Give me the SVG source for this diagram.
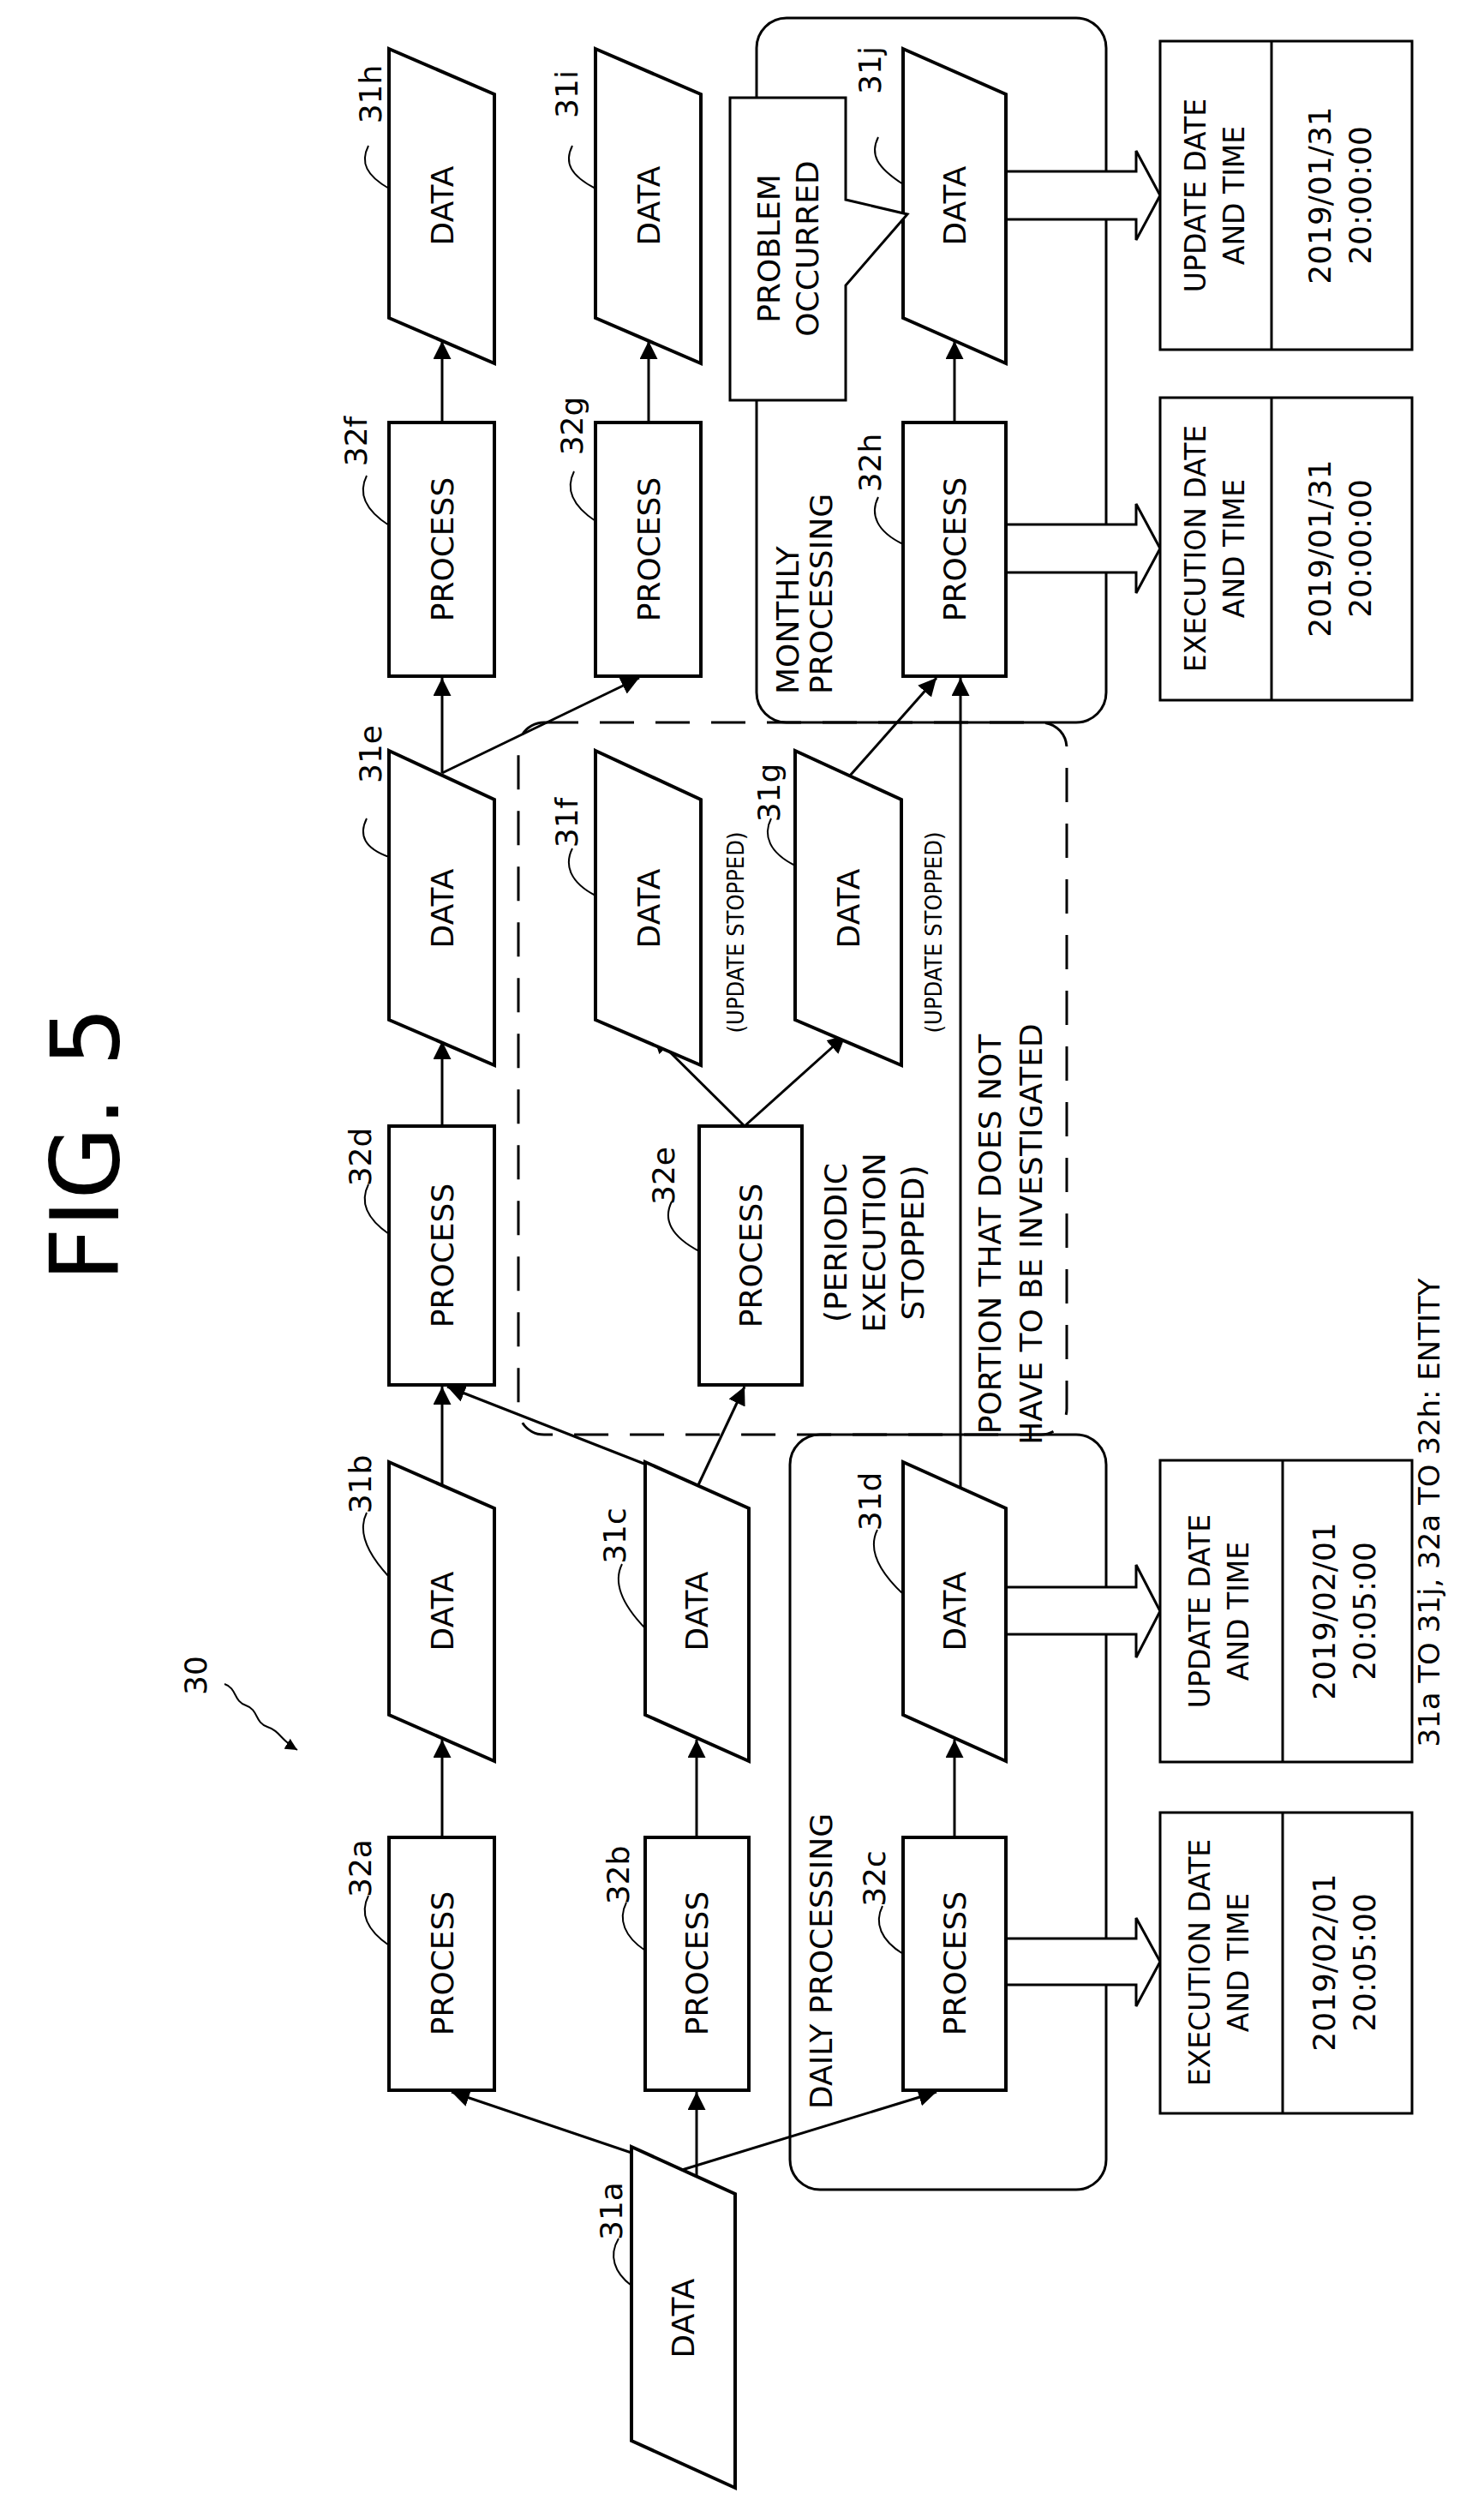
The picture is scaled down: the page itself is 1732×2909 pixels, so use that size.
<svg xmlns="http://www.w3.org/2000/svg" width="1732" height="2909" viewBox="0 0 1732 2909">
<style>
text{font-family:"DejaVu Sans","Liberation Sans",sans-serif;fill:#000}
.t{font-size:36px;text-anchor:middle;dominant-baseline:central}
.s{font-size:27px;text-anchor:middle;dominant-baseline:central}
.box{fill:#fff;stroke:#000;stroke-width:4}
.ln{fill:none;stroke:#000;stroke-width:3}
.ld{fill:none;stroke:#000;stroke-width:2}
.ar{fill:none;stroke:#000;stroke-width:3;marker-end:url(#a)}
.fat{fill:#fff;stroke:#000;stroke-width:3}
</style>
<defs>
<marker id="a" viewBox="0 0 10 10" refX="10" refY="5" markerWidth="7" markerHeight="7" orient="auto" markerUnits="strokeWidth"><path d="M0,0 L10,5 L0,10 z" fill="#000"/></marker>
</defs>
<rect width="1732" height="2909" fill="#fff"/>
<text transform="translate(100,1335) rotate(-90)" style="font-size:110px;text-anchor:middle;dominant-baseline:central">FIG. 5</text>
<text transform="translate(1668,1765) rotate(-90)" class="t" style="font-size:34px">31a TO 31j, 32a TO 32h: ENTITY</text>
<g id="label30"><text transform="translate(228,1955) rotate(-90)" class="t">30</text><path class="ld" d="M262,1965 c15,5 10,20 25,25 c15,5 10,20 25,25 c15,5 15,15 35,27" marker-end="url(#a)"/></g>

<g id="groups">
<rect x="605" y="843" width="640" height="831" rx="30" fill="none" stroke="#000" stroke-width="3" stroke-dasharray="40,25"/>
<rect x="883" y="21" width="408" height="822" rx="35" fill="none" stroke="#000" stroke-width="3"/>
<rect x="922" y="1674" width="369" height="881" rx="35" fill="none" stroke="#000" stroke-width="3"/>
<text transform="translate(958,2461) rotate(-90)" class="t" style="text-anchor:start">DAILY PROCESSING</text>
<text transform="translate(919,810) rotate(-90)" class="t" style="text-anchor:start">MONTHLY</text>
<text transform="translate(958,810) rotate(-90)" class="t" style="text-anchor:start">PROCESSING</text>
<text transform="translate(1155,1440) rotate(-90)" class="t">PORTION THAT DOES NOT</text>
<text transform="translate(1203,1440) rotate(-90)" class="t">HAVE TO BE INVESTIGATED</text>
</g>

<g id="connectors">
<line class="ar" x1="796" y1="2532" x2="527" y2="2441"/>
<line class="ar" x1="813" y1="2540" x2="813" y2="2441"/>
<line class="ar" x1="796" y1="2532" x2="1093" y2="2441"/>
<line class="ar" x1="516" y1="2144" x2="516" y2="2030"/>
<line class="ar" x1="813" y1="2144" x2="813" y2="2030"/>
<line class="ar" x1="1114" y1="2144" x2="1114" y2="2030"/>
<line class="ar" x1="516" y1="1735" x2="516" y2="1618"/>
<line class="ar" x1="762" y1="1712" x2="522" y2="1618"/>
<line class="ar" x1="813" y1="1737" x2="869" y2="1618"/>
<line class="ar" x1="1121" y1="1736" x2="1121" y2="791"/>
<line class="ar" x1="516" y1="1314" x2="516" y2="1215"/>
<line class="ar" x1="516" y1="902" x2="516" y2="791"/>
<line class="ar" x1="516" y1="902" x2="746" y2="791"/>
<line class="ar" x1="869" y1="1314" x2="762" y2="1208"/>
<line class="ar" x1="869" y1="1314" x2="987" y2="1208"/>
<line class="ar" x1="992" y1="905" x2="1093" y2="791"/>
<line class="ar" x1="516" y1="493" x2="516" y2="398"/>
<line class="ar" x1="757" y1="493" x2="757" y2="398"/>
<line class="ar" x1="1114" y1="493" x2="1114" y2="398"/>
<polygon class="fat" points="1174,2262 1326,2262 1326,2238 1354,2289 1326,2341 1326,2316 1174,2316"/>
<polygon class="fat" points="1174,1852 1326,1852 1326,1826 1354,1880 1326,1934 1326,1907 1174,1907"/>
<polygon class="fat" points="1174,612 1326,612 1326,588 1354,640 1326,692 1326,668 1174,668"/>
<polygon class="fat" points="1174,200 1326,200 1326,176 1354,228 1326,280 1326,256 1174,256"/>
</g>

<g id="n31a"><polygon class="box" points="737,2505 858,2560 858,2903 737,2848"/><text transform="translate(797,2705) rotate(-90)" class="t">DATA</text><text transform="translate(713,2580) rotate(-90)" class="t">31a</text><path class="ld" d="M722,2612 c-12,20 -5,40 15,55"/></g>
<g id="n32a"><rect class="box" x="454" y="2144" width="123" height="295"/><text transform="translate(516,2291) rotate(-90)" class="t">PROCESS</text><text transform="translate(420,2180) rotate(-90)" class="t">32a</text><path class="ld" d="M430,2212 c-10,20 -2,40 24,58"/></g>
<g id="n32b"><rect class="box" x="753" y="2144" width="121" height="295"/><text transform="translate(813,2291) rotate(-90)" class="t">PROCESS</text><text transform="translate(721,2188) rotate(-90)" class="t">32b</text><path class="ld" d="M731,2220 c-10,20 -2,40 22,56"/></g>
<g id="n32c"><rect class="box" x="1054" y="2144" width="120" height="295"/><text transform="translate(1114,2291) rotate(-90)" class="t">PROCESS</text><text transform="translate(1020,2192) rotate(-90)" class="t">32c</text><path class="ld" d="M1030,2224 c-10,20 -2,40 24,56"/></g>
<g id="n31b"><polygon class="box" points="454,1706 577,1760 577,2055 454,2001"/><text transform="translate(516,1880) rotate(-90)" class="t">DATA</text><text transform="translate(420,1732) rotate(-90)" class="t">31b</text><path class="ld" d="M428,1765 c-10,20 -2,45 26,75"/></g>
<g id="n31c"><polygon class="box" points="753,1706 874,1760 874,2055 753,2001"/><text transform="translate(813,1880) rotate(-90)" class="t">DATA</text><text transform="translate(717,1792) rotate(-90)" class="t">31c</text><path class="ld" d="M726,1825 c-10,20 -2,45 27,75"/></g>
<g id="n31d"><polygon class="box" points="1054,1706 1174,1760 1174,2055 1054,2001"/><text transform="translate(1114,1880) rotate(-90)" class="t">DATA</text><text transform="translate(1015,1752) rotate(-90)" class="t">31d</text><path class="ld" d="M1024,1785 c-10,20 -2,45 30,75"/></g>
<g id="n32d"><rect class="box" x="454" y="1314" width="123" height="302"/><text transform="translate(516,1465) rotate(-90)" class="t">PROCESS</text><text transform="translate(420,1350) rotate(-90)" class="t">32d</text><path class="ld" d="M430,1382 c-10,20 -2,40 24,58"/></g>
<g id="n32e"><rect class="box" x="816" y="1314" width="120" height="302"/><text transform="translate(876,1465) rotate(-90)" class="t">PROCESS</text><text transform="translate(774,1372) rotate(-90)" class="t">32e</text><path class="ld" d="M784,1402 c-10,20 -2,40 32,58"/>
<text transform="translate(975,1450) rotate(-90)" class="t">(PERIODIC</text><text transform="translate(1020,1450) rotate(-90)" class="t">EXECUTION</text><text transform="translate(1065,1450) rotate(-90)" class="t">STOPPED)</text></g>
<g id="n31e"><polygon class="box" points="454,876 577,933 577,1243 454,1190"/><text transform="translate(516,1060) rotate(-90)" class="t">DATA</text><text transform="translate(432,880) rotate(-90)" class="t">31e</text><path class="ld" d="M428,955 c-10,20 -2,35 26,45"/></g>
<g id="n31f"><polygon class="box" points="695,876 818,933 818,1243 695,1190"/><text transform="translate(757,1060) rotate(-90)" class="t">DATA</text><text transform="translate(661,960) rotate(-90)" class="t">31f</text><path class="ld" d="M668,990 c-10,20 -2,40 27,55"/><text transform="translate(858,1088) rotate(-90)" class="s" style="font-family:'Liberation Sans Narrow','DejaVu Sans Condensed',sans-serif">(UPDATE STOPPED)</text></g>
<g id="n31g"><polygon class="box" points="928,876 1052,933 1052,1243 928,1190"/><text transform="translate(990,1060) rotate(-90)" class="t">DATA</text><text transform="translate(897,925) rotate(-90)" class="t">31g</text><path class="ld" d="M900,955 c-10,20 -2,40 28,55"/><text transform="translate(1089,1088) rotate(-90)" class="s" style="font-family:'Liberation Sans Narrow','DejaVu Sans Condensed',sans-serif">(UPDATE STOPPED)</text></g>
<g id="n32f"><rect class="box" x="454" y="493" width="123" height="296"/><text transform="translate(516,641) rotate(-90)" class="t">PROCESS</text><text transform="translate(415,515) rotate(-90)" class="t">32f</text><path class="ld" d="M428,555 c-10,20 -2,40 26,58"/></g>
<g id="n32g"><rect class="box" x="695" y="493" width="123" height="296"/><text transform="translate(757,641) rotate(-90)" class="t">PROCESS</text><text transform="translate(667,497) rotate(-90)" class="t">32g</text><path class="ld" d="M670,550 c-10,20 -2,40 25,58"/></g>
<g id="n32h"><rect class="box" x="1054" y="493" width="120" height="296"/><text transform="translate(1114,641) rotate(-90)" class="t">PROCESS</text><text transform="translate(1015,540) rotate(-90)" class="t">32h</text><path class="ld" d="M1025,580 c-10,20 -2,40 29,55"/></g>
<g id="n31h"><polygon class="box" points="454,57 577,110 577,424 454,371"/><text transform="translate(516,240) rotate(-90)" class="t">DATA</text><text transform="translate(432,110) rotate(-90)" class="t">31h</text><path class="ld" d="M430,170 c-10,20 -2,35 24,50"/></g>
<g id="n31i"><polygon class="box" points="695,57 818,110 818,424 695,371"/><text transform="translate(757,240) rotate(-90)" class="t">DATA</text><text transform="translate(661,110) rotate(-90)" class="t">31i</text><path class="ld" d="M668,170 c-10,20 -2,35 27,50"/></g>
<g id="n31j"><polygon class="box" points="1054,57 1174,110 1174,424 1054,371"/><text transform="translate(1114,240) rotate(-90)" class="t">DATA</text><text transform="translate(1015,82) rotate(-90)" class="t">31j</text><path class="ld" d="M1025,160 c-10,20 -2,35 29,55"/></g>
<g id="callout"><polygon class="box" points="852,114 987,114 987,233 1059,250 987,333 987,467 852,467" style="stroke-width:3"/><text transform="translate(897,290) rotate(-90)" class="t">PROBLEM</text><text transform="translate(942,290) rotate(-90)" class="t">OCCURRED</text></g>

<g id="t_exec_daily"><rect class="box" x="1354" y="2115" width="294" height="351" style="stroke-width:3"/><line class="ln" x1="1497" y1="2115" x2="1497" y2="2466"/><text transform="translate(1400,2290) rotate(-90)" class="t" style="font-size:33px">EXECUTION DATE</text><text transform="translate(1445,2290) rotate(-90)" class="t" style="font-size:33px">AND TIME</text><text transform="translate(1545,2290) rotate(-90)" class="t">2019/02/01</text><text transform="translate(1592,2290) rotate(-90)" class="t">20:05:00</text></g>
<g id="t_upd_daily"><rect class="box" x="1354" y="1704" width="294" height="352" style="stroke-width:3"/><line class="ln" x1="1497" y1="1704" x2="1497" y2="2056"/><text transform="translate(1400,1880) rotate(-90)" class="t" style="font-size:33px">UPDATE DATE</text><text transform="translate(1445,1880) rotate(-90)" class="t" style="font-size:33px">AND TIME</text><text transform="translate(1545,1880) rotate(-90)" class="t">2019/02/01</text><text transform="translate(1592,1880) rotate(-90)" class="t">20:05:00</text></g>
<g id="t_exec_monthly"><rect class="box" x="1354" y="464" width="294" height="353" style="stroke-width:3"/><line class="ln" x1="1484" y1="464" x2="1484" y2="817"/><text transform="translate(1395,640) rotate(-90)" class="t" style="font-size:33px">EXECUTION DATE</text><text transform="translate(1440,640) rotate(-90)" class="t" style="font-size:33px">AND TIME</text><text transform="translate(1540,640) rotate(-90)" class="t">2019/01/31</text><text transform="translate(1587,640) rotate(-90)" class="t">20:00:00</text></g>
<g id="t_upd_monthly"><rect class="box" x="1354" y="48" width="294" height="360" style="stroke-width:3"/><line class="ln" x1="1484" y1="48" x2="1484" y2="408"/><text transform="translate(1395,228) rotate(-90)" class="t" style="font-size:33px">UPDATE DATE</text><text transform="translate(1440,228) rotate(-90)" class="t" style="font-size:33px">AND TIME</text><text transform="translate(1540,228) rotate(-90)" class="t">2019/01/31</text><text transform="translate(1587,228) rotate(-90)" class="t">20:00:00</text></g>
</svg>
